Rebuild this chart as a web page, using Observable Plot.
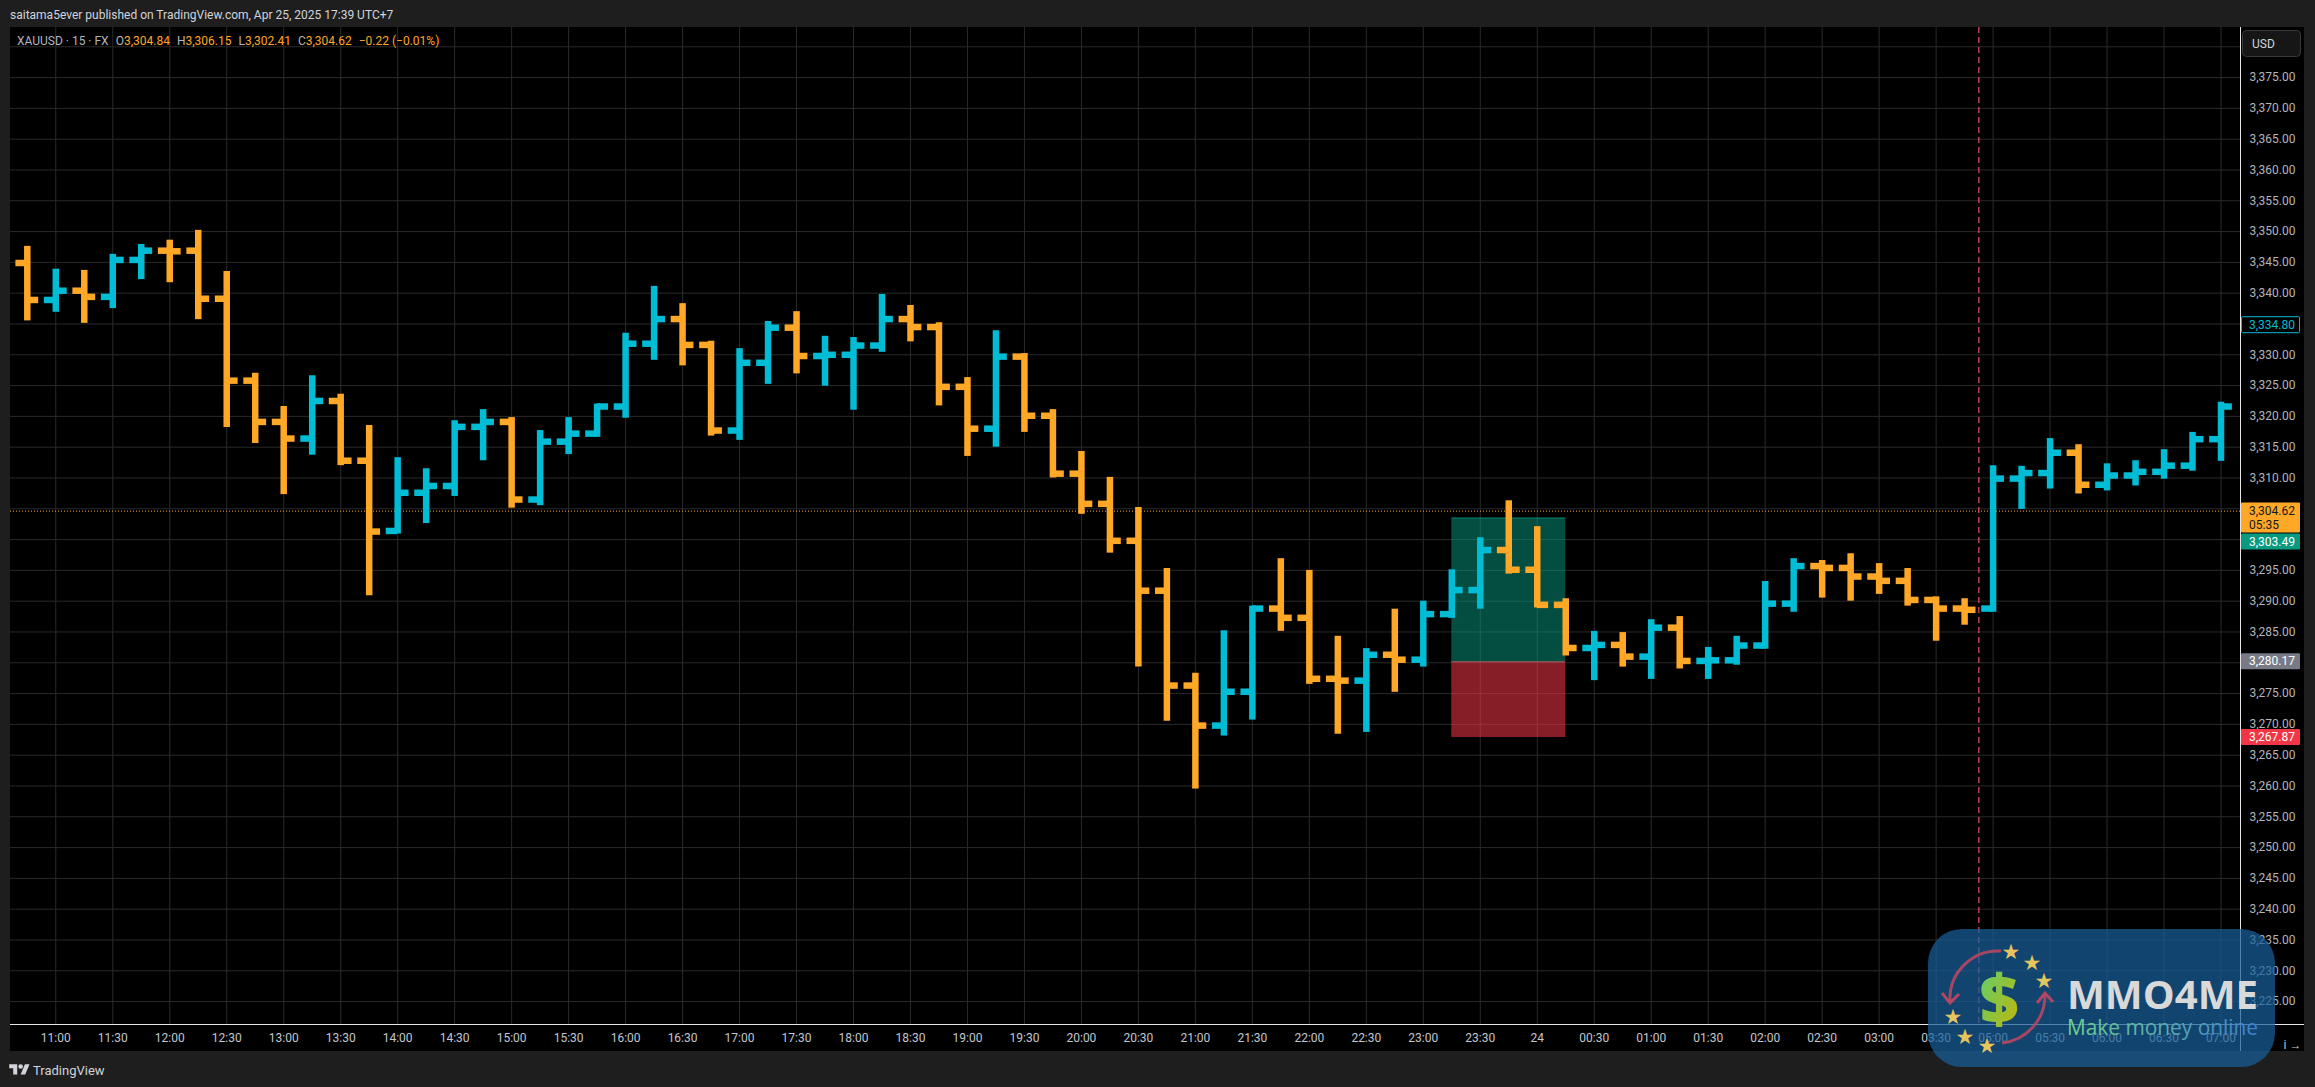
<!DOCTYPE html>
<html>
<head>
<meta charset="utf-8">
<script src="https://cdn.jsdelivr.net/npm/d3@7"></script>
<script src="https://cdn.jsdelivr.net/npm/@observablehq/plot@0.6"></script>
<style>
  html, body { margin: 0; padding: 0; }
  body { width: 2315px; height: 1087px; background: #1e1e1e; position: relative; overflow: hidden; font-family: Roboto, "Noto Sans", sans-serif; }
  #pub { position: absolute; left: 10px; top: 8px; font-size: 12px; line-height: 14px; color: #d1d4dc; white-space: nowrap; }
  #chart { position: absolute; left: 10px; top: 27px; }
  #legend { position: absolute; left: 17px; top: 34px; font-size: 12px; line-height: 14px; color: #b2b5be; white-space: nowrap; }
  #legend span.it { margin-right: 7px; }
  #legend .v { color: #ffa726; }
  #tv { position: absolute; left: 9px; top: 1062px; font-size: 13px; line-height: 15px; color: #d1d4dc; white-space: nowrap; display: flex; align-items: center; gap: 3px; }
  #wm { position: absolute; left: 1928px; top: 929px; width: 347px; height: 138px; border-radius: 34px; background: rgba(24, 95, 155, 0.72); }
</style>
</head>
<body>
<div id="pub">saitama5ever published on TradingView.com, Apr 25, 2025 17:39 UTC+7</div>
<div id="chart"></div>
<div id="legend"></div>
<div id="tv"><svg width="21" height="16" viewBox="0 0 36 28"><path d="M14 22H7V11H0V4h14v18z" fill="#d1d4dc"/><circle cx="20" cy="8" r="4" fill="#d1d4dc"/><path d="M28 22h-8l7.5-18h8L28 22z" fill="#d1d4dc"/></svg><span>TradingView</span></div>
<div id="wm">
  <svg width="347" height="138" viewBox="0 0 347 138" style="position:absolute;left:0;top:0">
    <defs>
      <linearGradient id="dollarG" x1="0" y1="0" x2="1" y2="1">
        <stop offset="0" stop-color="#55d27a"/><stop offset="1" stop-color="#c8b400"/>
      </linearGradient>
      <linearGradient id="tagG" x1="0" y1="0" x2="1" y2="0">
        <stop offset="0" stop-color="#6fd08a"/><stop offset="0.55" stop-color="#5aa6b0"/><stop offset="1" stop-color="#3f7fd0"/>
      </linearGradient>
    </defs>
    <path d="M73,22 A48,48 0 0 0 22,72" fill="none" stroke="rgba(205,70,95,0.8)" stroke-width="3"/>
    <path d="M14,64 L22,74 L31,65" fill="none" stroke="rgba(205,70,95,0.85)" stroke-width="3"/>
    <path d="M74,114 A48,48 0 0 0 117,66" fill="none" stroke="rgba(205,70,95,0.8)" stroke-width="3"/>
    <path d="M109,74 L117,64 L125,73" fill="none" stroke="rgba(205,70,95,0.85)" stroke-width="3"/>
    <text x="71" y="94" text-anchor="middle" font-family="Open Sans, sans-serif" font-weight="800" font-size="68" fill="url(#dollarG)">$</text>
    <g font-size="21" fill="#e6c65c" text-anchor="middle" font-family="DejaVu Sans">
      <text x="83" y="30">★</text><text x="104" y="41">★</text><text x="116" y="59">★</text>
      <text x="25" y="95">★</text><text x="37" y="115">★</text><text x="59" y="124">★</text>
    </g>
    <text x="139" y="80" font-family="Open Sans, sans-serif" font-weight="700" font-size="39" fill="#d9d9d9" textLength="191" lengthAdjust="spacingAndGlyphs">MMO4ME</text>
    <text x="139" y="106" font-family="Open Sans, sans-serif" font-size="22" fill="url(#tagG)" textLength="191" lengthAdjust="spacingAndGlyphs">Make money online</text>
  </svg>
</div>
<script>
// ---- data (XAUUSD 15m bars) ----
const times = ["10:45","11:00","11:15","11:30","11:45","12:00","12:15","12:30","12:45","13:00","13:15","13:30","13:45","14:00","14:15","14:30","14:45","15:00","15:15","15:30","15:45","16:00","16:15","16:30","16:45","17:00","17:15","17:30","17:45","18:00","18:15","18:30","18:45","19:00","19:15","19:30","19:45","20:00","20:15","20:30","20:45","21:00","21:15","21:30","21:45","22:00","22:15","22:30","22:45","23:00","23:15","23:30","23:45","00:00","00:15","00:30","00:45","01:00","01:15","01:30","01:45","02:00","02:15","02:30","02:45","03:00","03:15","03:30","03:45","05:00","05:15","05:30","05:45","06:00","06:15","06:30","06:45","07:00"];
const opens  = [3344.9,3338.9,3340.4,3339.4,3345.4,3346.9,3346.9,3339.1,3325.8,3319.1,3316.4,3322.5,3312.8,3301.4,3307.6,3308.7,3318.3,3319.1,3306.5,3315.9,3317.2,3321.6,3331.8,3335.8,3331.6,3317.7,3328.7,3334.4,3329.8,3330.0,3331.5,3335.8,3334.5,3324.8,3318.0,3329.7,3320.1,3310.7,3305.8,3299.8,3291.7,3276.3,3269.8,3275.3,3288.8,3287.3,3277.4,3277.1,3281.3,3280.5,3287.9,3291.8,3298.3,3295.1,3289.4,3282.4,3282.9,3281.0,3285.7,3280.3,3280.4,3282.8,3289.6,3295.7,3295.4,3294.0,3293.3,3290.2,3288.8,3288.8,3309.9,3310.8,3314.1,3308.9,3310.4,3311.0,3312.0,3316.3];
const highs  = [3347.6,3343.9,3343.7,3346.3,3347.9,3348.6,3350.2,3343.5,3327.0,3321.6,3326.6,3323.6,3318.5,3313.3,3311.5,3319.3,3321.1,3319.8,3317.7,3319.8,3322.0,3333.5,3341.1,3338.3,3332.2,3331.0,3335.4,3337.0,3333.0,3332.8,3339.8,3338.0,3335.2,3326.3,3333.9,3330.2,3321.1,3314.3,3310.1,3305.2,3295.3,3278.3,3285.2,3289.2,3296.9,3295.0,3284.3,3282.3,3288.7,3290.0,3295.1,3300.3,3306.3,3302.1,3290.4,3285.1,3284.9,3287.0,3287.5,3282.5,3284.3,3293.2,3296.9,3296.6,3297.7,3296.1,3295.3,3290.7,3290.4,3312.0,3311.9,3316.4,3315.4,3312.3,3312.8,3314.6,3317.4,3322.3];
const lows   = [3335.5,3336.9,3335.1,3337.5,3342.2,3341.7,3335.7,3318.2,3315.6,3307.3,3313.7,3312.0,3290.9,3300.9,3302.6,3307.0,3312.8,3305.1,3305.5,3313.8,3316.6,3319.7,3329.1,3328.2,3316.8,3316.1,3325.2,3326.9,3324.9,3321.0,3330.4,3332.1,3321.7,3313.5,3315.0,3317.4,3310.0,3304.1,3297.8,3279.3,3270.5,3259.5,3268.1,3270.7,3285.1,3276.5,3268.4,3268.7,3275.2,3279.3,3287.2,3288.7,3294.4,3288.9,3281.1,3277.1,3279.3,3277.3,3279.0,3277.3,3279.6,3282.2,3288.2,3290.5,3290.0,3291.1,3289.2,3283.5,3286.1,3288.2,3304.9,3308.2,3307.4,3307.9,3308.7,3309.8,3311.1,3312.7];
const closes = [3338.9,3340.4,3339.4,3345.4,3346.9,3346.8,3339.1,3325.8,3319.1,3316.4,3322.5,3312.8,3301.3,3307.6,3308.7,3318.3,3319.1,3306.5,3315.9,3317.2,3321.6,3331.8,3335.8,3331.6,3317.7,3328.7,3334.4,3329.8,3330.0,3331.5,3335.8,3334.5,3324.8,3318.0,3329.7,3320.1,3310.7,3305.8,3299.8,3291.7,3276.3,3269.8,3275.3,3288.8,3287.3,3277.4,3277.1,3281.3,3280.5,3287.9,3291.8,3298.3,3295.1,3289.4,3282.4,3282.9,3281.0,3285.7,3280.3,3280.4,3282.8,3289.6,3295.7,3295.4,3294.0,3293.3,3290.2,3288.8,3288.6,3309.9,3310.8,3314.1,3308.9,3310.4,3311.0,3312.0,3316.3,3321.6];

// long-position tool
const positionBars = ["23:15", "00:15"];
const positionLevels = { target: 3303.49, entry: 3280.17, stop: 3267.87 };
// last price line and session break
const lastPrice = 3304.62;
const sessionBreakAfter = "03:45";
// axis price tags
const tagValues = [3334.80, 3304.62, 3303.49, 3280.17, 3267.87];
const tagKinds  = ["alert", "last", "target", "entry", "stop"];
const countdown = "05:35";
// header legend
const legendSymbol = "XAUUSD · 15 · FX";
const legendNames  = ["O", "H", "L", "C"];
const legendValues = ["3,304.84", "3,306.15", "3,302.41", "3,304.62"];
const legendChange = "−0.22 (−0.01%)";
// price tick values shown on the right axis
const priceTicks = d3.range(3225, 3376, 5).filter(v => ![3335, 3305, 3300, 3280].includes(v));
const priceGrid = d3.range(3225, 3381, 5);

// ---- build ----
const bars = times.map((t, i) => ({i, t, open: opens[i], high: highs[i], low: lows[i], close: closes[i]}));
const tickIdx = bars.filter(d => d.t.endsWith(":00") || d.t.endsWith(":30")).map(d => d.i);
const tickLabel = i => times[i] === "00:00" ? "24" : times[i];
const up = d => d.close >= d.open;
const dn = d => d.close < d.open;
const CYAN = "#00bcd4", ORANGE = "#ffa726";
const W = 2294, H = 1024, MR = 64, MB = 27;
const tw = 0.4, sw = 6.5;
const i0 = times.indexOf(positionBars[0]), i1 = times.indexOf(positionBars[1]);
const ib = times.indexOf(sessionBreakAfter) + 0.5;

const chart = Plot.plot({
  width: W, height: H,
  marginLeft: 0, marginRight: MR, marginTop: 0, marginBottom: MB,
  style: {background: "#000", fontFamily: "Roboto, sans-serif", fontSize: "12px", color: "#b2b5be", overflow: "visible"},
  x: {domain: [-0.5897, 77.684]},
  y: {domain: [3221.28, 3383.13]},
  marks: [
    Plot.gridY(priceGrid, {stroke: "#2a2a2a", strokeOpacity: 1}),
    Plot.gridX(tickIdx, {stroke: "#2a2a2a", strokeOpacity: 1}),
    Plot.rect([positionLevels], {x1: () => i0, x2: () => i1, y1: "entry", y2: "target", fill: "#089981", fillOpacity: 0.5}),
    Plot.rect([positionLevels], {x1: () => i0, x2: () => i1, y1: "stop", y2: "entry", fill: "#f23645", fillOpacity: 0.55}),
    Plot.ruleY([positionLevels.entry], {x1: i0, x2: i1, stroke: "#9598a1", strokeOpacity: 0.6}),
    Plot.ruleY([positionLevels.target], {x1: i0, x2: i1, stroke: "#089981", strokeOpacity: 0.7}),
    Plot.ruleY([lastPrice], {stroke: ORANGE, strokeDasharray: "1,2", strokeWidth: 1}),
    Plot.ruleX([ib], {stroke: "#e8506e", strokeDasharray: "6,4", strokeWidth: 1.2}),
    Plot.ruleX(bars, {filter: up, x: "i", y1: "low", y2: "high", stroke: CYAN, strokeWidth: sw}),
    Plot.ruleY(bars, {filter: up, x1: d => d.i - tw, x2: d => d.i, y: "open", stroke: CYAN, strokeWidth: sw}),
    Plot.ruleY(bars, {filter: up, x1: d => d.i, x2: d => d.i + tw, y: "close", stroke: CYAN, strokeWidth: sw}),
    Plot.ruleX(bars, {filter: dn, x: "i", y1: "low", y2: "high", stroke: ORANGE, strokeWidth: sw}),
    Plot.ruleY(bars, {filter: dn, x1: d => d.i - tw, x2: d => d.i, y: "open", stroke: ORANGE, strokeWidth: sw}),
    Plot.ruleY(bars, {filter: dn, x1: d => d.i, x2: d => d.i + tw, y: "close", stroke: ORANGE, strokeWidth: sw}),
    Plot.axisY(priceTicks, {anchor: "right", tickSize: 0, tickPadding: 9, tickFormat: d3.format(",.2f"), color: "#b2b5be", fontSize: 12}),
    Plot.axisX(tickIdx, {anchor: "bottom", tickSize: 0, tickPadding: 9, tickFormat: tickLabel, color: "#c3c6ce", fontSize: 12})
  ]
});
document.getElementById("chart").appendChild(chart);

// frame lines and price tags (positions from the plot's own y scale)
const svg = d3.select(chart.tagName.toLowerCase() === "svg" ? chart : chart.querySelector("svg"));
const right = W - MR, bottom = H - MB;
svg.append("line").attr("x1", 0).attr("x2", W).attr("y1", bottom + 0.5).attr("y2", bottom + 0.5).attr("stroke", "#e6e6e6");
svg.append("line").attr("x1", right + 0.5).attr("x2", right + 0.5).attr("y1", 0).attr("y2", H).attr("stroke", "#e6e6e6");

const yScale = chart.scale("y");
const styles = {
  alert:  {fill: "#000", stroke: CYAN, text: CYAN},
  last:   {fill: ORANGE, stroke: null, text: "#131722"},
  target: {fill: "#089981", stroke: null, text: "#fff"},
  entry:  {fill: "#787b86", stroke: null, text: "#fff"},
  stop:   {fill: "#f23645", stroke: null, text: "#fff"}
};
const tags = tagValues.map((v, k) => ({v, kind: tagKinds[k], y: yScale.apply(v), lines: tagKinds[k] === "last" ? [d3.format(",.2f")(v), countdown] : [d3.format(",.2f")(v)]}))
  .sort((a, b) => a.y - b.y);
let lastBottom = -Infinity;
for (const t of tags) {
  const h = t.lines.length === 2 ? 30 : 16;
  let top = t.y - 8;
  if (top < lastBottom + 1) top = lastBottom + 1;
  t.top = top; t.h = h; lastBottom = top + h;
}
const g = svg.append("g").attr("text-anchor", "start");
for (const t of tags) {
  const s = styles[t.kind];
  g.append("rect").attr("x", right + (s.stroke ? 1.5 : 1)).attr("y", t.top).attr("width", s.stroke ? 58 : 59).attr("height", t.h)
    .attr("fill", s.fill).attr("stroke", s.stroke || "none").attr("stroke-width", 1).attr("rx", 1);
  t.lines.forEach((ln, j) => {
    g.append("text").attr("x", right + 9).attr("y", t.top + 8 + j * 14).attr("dy", "0.35em").attr("text-anchor", "start")
      .attr("fill", s.text).attr("font-size", 12).attr("font-family", "Roboto, sans-serif").text(ln);
  });
}
// currency badge
g.append("rect").attr("x", right + 2.5).attr("y", 3.5).attr("width", 58).attr("height", 26).attr("rx", 4)
  .attr("fill", "#161616").attr("stroke", "#3a3a3a");
g.append("text").attr("x", right + 12).attr("y", 16.5).attr("dy", "0.35em").attr("text-anchor", "start").attr("fill", "#d1d4dc")
  .attr("font-size", 12).attr("font-family", "Roboto, sans-serif").text("USD");

// legend
const leg = d3.select("#legend");
leg.append("span").attr("class", "it").text(legendSymbol);
legendNames.forEach((n, k) => {
  const s = leg.append("span").attr("class", "it");
  s.append("span").text(n);
  s.append("span").attr("class", "v").text(legendValues[k]);
});
leg.append("span").attr("class", "it v").text(legendChange);
</script>
</body>
</html>
